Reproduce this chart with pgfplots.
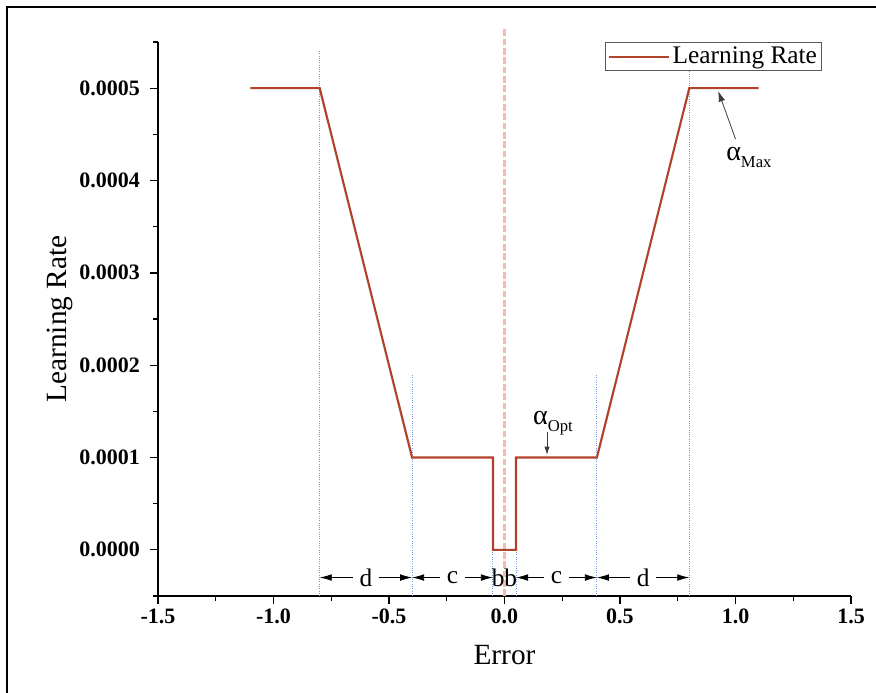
\documentclass[border=0pt]{standalone}
\usepackage{fontspec}
\setmainfont{Liberation Serif}
\usepackage{pgfplots}
\pgfplotsset{compat=1.18}
\usetikzlibrary{arrows.meta}
\definecolor{lrcol}{RGB}{176,66,44}
\definecolor{guide}{RGB}{120,150,225}
\definecolor{zeroline}{RGB}{248,185,175}
\definecolor{annot}{RGB}{60,60,60}

\newcommand{\lab}[1]{\fontsize{#1}{#1}\selectfont}

\begin{document}
\begin{tikzpicture}
% page = 876x693 px at 0.75pt per px, axis corner at (158,596) px
\useasboundingbox (-118.5pt,-72.75pt) rectangle (538.5pt,447pt);
\draw[line width=1.5pt] (-113.25pt,-72.75pt) -- (-113.25pt,441.75pt) -- (538.5pt,441.75pt);
\begin{axis}[
    scale only axis,
    width=519.75pt, height=415.5pt,
    xmin=-1.5, xmax=1.5,
    ymin=-0.00005, ymax=0.00055,
    clip=false,
    axis lines=left,
    axis line style={-, line width=1.2pt},
    tick align=outside,
    major tick length=6pt,
    minor tick length=3.5pt,
    every tick/.style={black, line width=1pt},
    xtick={-1.5,-1,-0.5,0,0.5,1,1.5},
    minor xtick={-1.25,-0.75,-0.25,0.25,0.75,1.25},
    ytick={0,0.0001,0.0002,0.0003,0.0004,0.0005},
    minor ytick={-0.00005,0.00005,0.00015,0.00025,0.00035,0.00045,0.00055},
    scaled y ticks=false,
    scaled x ticks=false,
    xticklabel style={font=\bfseries\lab{16.5}, /pgf/number format/.cd, fixed, fixed zerofill, precision=1, assume math mode=true},
    yticklabel style={font=\bfseries\lab{16.5}, xshift=-4pt, /pgf/number format/.cd, fixed, fixed zerofill, precision=4, assume math mode=true},
    xlabel={Error},
    ylabel={Learning Rate},
    xlabel style={font=\lab{22}, at={(axis description cs:0.5,-0.1065)}, anchor=center},
    ylabel style={font=\lab{22}, at={(axis description cs:-0.142,0.5)}, anchor=center},
    legend style={at={(axis cs:1.375,0.00055)}, anchor=north east,
        draw=gray!70!black, line width=0.8pt, font=\lab{19},
        inner sep=1.5pt, cells={anchor=west}},
    legend image code/.code={\draw[#1] (0pt,0pt) -- (45pt,0pt);},
]
% guide lines
\addplot[guide, densely dotted, line width=0.7pt, forget plot] coordinates {(-0.8,-0.00005) (-0.8,0.00054)};
\addplot[guide, densely dotted, line width=0.7pt, forget plot] coordinates {(-0.4,-0.00005) (-0.4,0.00019)};
\addplot[guide, densely dotted, line width=0.7pt, forget plot] coordinates {(-0.05,-0.00005) (-0.05,0.0001)};
\addplot[guide, densely dotted, line width=0.7pt, forget plot] coordinates {(0.05,-0.00005) (0.05,0.0001)};
\addplot[guide, densely dotted, line width=0.7pt, forget plot] coordinates {(0.4,-0.00005) (0.4,0.00019)};
\addplot[guide, densely dotted, line width=0.7pt, forget plot] coordinates {(0.8,-0.00005) (0.8,0.00054)};
\addplot[zeroline, dash pattern=on 5pt off 2pt, line width=2pt, forget plot] coordinates {(0,-0.00005) (0,0.000565)};
% learning rate schedule
\addplot[lrcol, line width=1.6pt] coordinates {
    (-1.1,0.0005) (-0.8,0.0005) (-0.4,0.0001) (-0.05,0.0001) (-0.05,0)
    (0.05,0) (0.05,0.0001) (0.4,0.0001) (0.8,0.0005) (1.1,0.0005)};
\addlegendentry{Learning Rate}

% interval arrows
\draw[{Latex[length=9pt,width=5pt]}-{Latex[length=9pt,width=5pt]}, line width=0.6pt]
    (axis cs:-0.8,-0.00003) -- node[fill=white, inner sep=5pt, font=\lab{19}]{d} (axis cs:-0.4,-0.00003);
\draw[{Latex[length=9pt,width=5pt]}-{Latex[length=9pt,width=5pt]}, line width=0.6pt]
    (axis cs:-0.4,-0.00003) -- node[fill=white, inner sep=5pt, font=\lab{19}]{c} (axis cs:-0.05,-0.00003);
\node[font=\lab{19}] at (axis cs:0,-0.00003) {bb};
\draw[{Latex[length=9pt,width=5pt]}-{Latex[length=9pt,width=5pt]}, line width=0.6pt]
    (axis cs:0.05,-0.00003) -- node[fill=white, inner sep=5pt, font=\lab{19}]{c} (axis cs:0.4,-0.00003);
\draw[{Latex[length=9pt,width=5pt]}-{Latex[length=9pt,width=5pt]}, line width=0.6pt]
    (axis cs:0.4,-0.00003) -- node[fill=white, inner sep=5pt, font=\lab{19}]{d} (axis cs:0.8,-0.00003);

% alpha annotations
\node[anchor=base west, inner sep=0pt, font=\lab{21}] at (axis cs:0.123,0.0001357)
    {α\raisebox{-0.55ex}{\lab{12.5}Opt}};
\draw[annot, line width=0.6pt, -{Latex[length=6pt,width=4pt]}] (axis cs:0.184,0.000128) -- (axis cs:0.184,0.000103);
\node[anchor=base west, inner sep=0pt, font=\lab{21}] at (axis cs:0.959,0.000422)
    {α\raisebox{-0.55ex}{\lab{12.5}Max}};
\draw[annot, line width=0.6pt, -{Latex[length=8pt,width=5pt]}] (axis cs:1.0,0.000445) -- (axis cs:0.925,0.000497);
\end{axis}
\end{tikzpicture}
\end{document}
